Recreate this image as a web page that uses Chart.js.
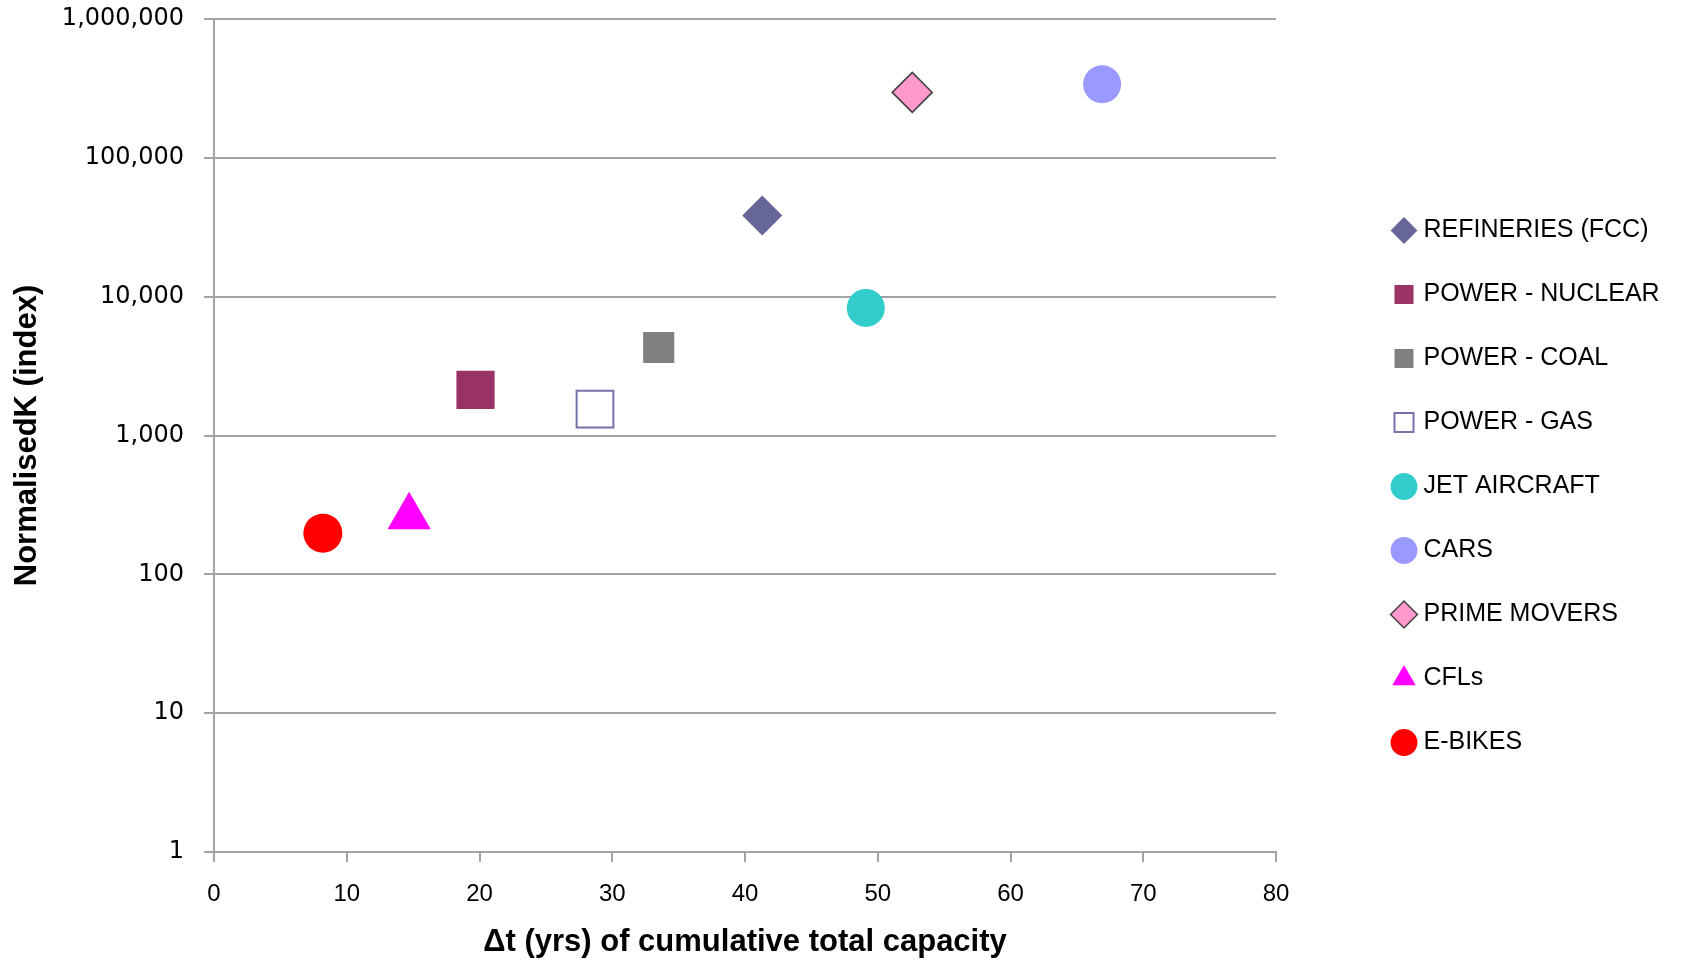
<!DOCTYPE html>
<html lang="en">
<head>
    <meta charset="UTF-8">
    <title>Normalised K vs cumulative capacity</title>
    <style>
        html, body { margin: 0; padding: 0; background: #fff; }
        #wrap { width: 1684px; height: 961px; position: relative; }
    </style>
</head>
<body>
<div id="wrap">
    <canvas id="kChart"></canvas>
</div>

<script src="https://cdn.jsdelivr.net/npm/chart.js"></script>

<script>
    // Values
    const seriesNames = ['REFINERIES (FCC)', 'POWER - NUCLEAR', 'POWER - COAL', 'POWER - GAS',
        'JET AIRCRAFT', 'CARS', 'PRIME MOVERS', 'CFLs', 'E-BIKES'];
    const deltaT = [41.3, 19.7, 33.5, 28.7, 49.1, 66.9, 52.6, 14.7, 8.2];
    const normalisedK = [38500, 2130, 4300, 1550, 8300, 339000, 296000, 260, 198];
    const xTicks = [0, 10, 20, 30, 40, 50, 60, 70, 80];
    const yTicks = [1, 10, 100, 1000, 10000, 100000, 1000000];

    // Marker look for each series (same order as seriesNames)
    const markerStyles = [
        { shape: 'rectRot', fill: '#666699', line: '#666699', lw: 0, r: 20 },
        { shape: 'rect',    fill: '#993366', line: '#993366', lw: 0, r: 27 },
        { shape: 'rect',    fill: '#808080', line: '#808080', lw: 0, r: 22 },
        { shape: 'rect',    fill: '#ffffff', line: '#7373aa', lw: 2, r: 26 },
        { shape: 'circle',  fill: '#33cccc', line: '#33cccc', lw: 0, r: 19 },
        { shape: 'circle',  fill: '#9999ff', line: '#9999ff', lw: 0, r: 19 },
        { shape: 'rectRot', fill: '#ff99cc', line: '#404040', lw: 1.5, r: 20 },
        { shape: 'triangle',fill: '#ff00ff', line: '#ff00ff', lw: 0, r: 25 },
        { shape: 'circle',  fill: '#ff0000', line: '#ff0000', lw: 0, r: 19.5 }
    ];

    const gridGrey = '#a3a3a3';

    const datasets = seriesNames.map((name, i) => ({
        label: name,
        data: [{ x: deltaT[i], y: normalisedK[i] }],
        pointStyle: markerStyles[i].shape,
        pointRadius: markerStyles[i].r,
        pointHoverRadius: markerStyles[i].r,
        backgroundColor: markerStyles[i].fill,
        borderColor: markerStyles[i].line,
        borderWidth: markerStyles[i].lw
    }));

    // move the legend column a bit right, like the Excel original
    const legendNudge = {
        id: 'legendNudge',
        afterLayout(chart) {
            const lg = chart.legend;
            lg.left += 82; lg.right += 82;
            lg.top += 6; lg.bottom += 6;
        }
    };

    const ctx = document.getElementById('kChart').getContext('2d');
    const kChart = new Chart(ctx, {
        type: 'scatter',
        data: { datasets },
        plugins: [legendNudge],
        options: {
            responsive: true,
            maintainAspectRatio: false,
            animation: false,
            layout: { autoPadding: false, padding: { top: 0, right: 106, bottom: 0, left: 0 } },
            plugins: {
                tooltip: { enabled: false },
                legend: {
                    position: 'right',
                    maxWidth: 302,
                    labels: {
                        usePointStyle: true,
                        boxWidth: 14,
                        boxHeight: 19,
                        padding: 39,
                        color: '#000',
                        font: { family: 'Liberation Sans, Arial, sans-serif', size: 25 }
                    }
                }
            },
            scales: {
                x: {
                    type: 'linear',
                    min: 0,
                    max: 80,
                    afterFit: (scale) => { scale.height = 109; },
                    afterBuildTicks: (axis) => { axis.ticks = xTicks.map(v => ({ value: v })); },
                    border: { display: true, color: gridGrey, width: 2 },
                    grid: { drawOnChartArea: false, drawTicks: true, tickLength: 10, color: gridGrey, lineWidth: 2 },
                    ticks: {
                        padding: 18,
                        color: '#000',
                        font: { family: 'Liberation Sans, Arial, sans-serif', size: 24 }
                    },
                    title: {
                        display: true,
                        text: 'Δt (yrs) of cumulative total capacity',
                        color: '#000',
                        padding: { top: 0, bottom: 0 },
                        font: { family: 'Liberation Sans, Arial, sans-serif', size: 31, weight: 'bold' }
                    }
                },
                y: {
                    type: 'logarithmic',
                    min: 1,
                    max: 1000000,
                    afterFit: (scale) => { scale.width = 214; scale.paddingTop = 19; },
                    afterBuildTicks: (axis) => { axis.ticks = yTicks.map(v => ({ value: v })); },
                    border: { display: true, color: gridGrey, width: 2 },
                    grid: { color: gridGrey, lineWidth: 2, tickLength: 10 },
                    ticks: {
                        padding: 20,
                        color: '#000',
                        font: { family: 'DejaVu Sans, Verdana, sans-serif', size: 24 },
                        callback: (v) => Number(v).toLocaleString('en-US')
                    },
                    title: {
                        display: true,
                        text: 'NormalisedK (index)',
                        color: '#000',
                        padding: { top: 9, bottom: 0 },
                        font: { family: 'Liberation Sans, Arial, sans-serif', size: 31, weight: 'bold' }
                    }
                }
            }
        }
    });
</script>
</body>
</html>
